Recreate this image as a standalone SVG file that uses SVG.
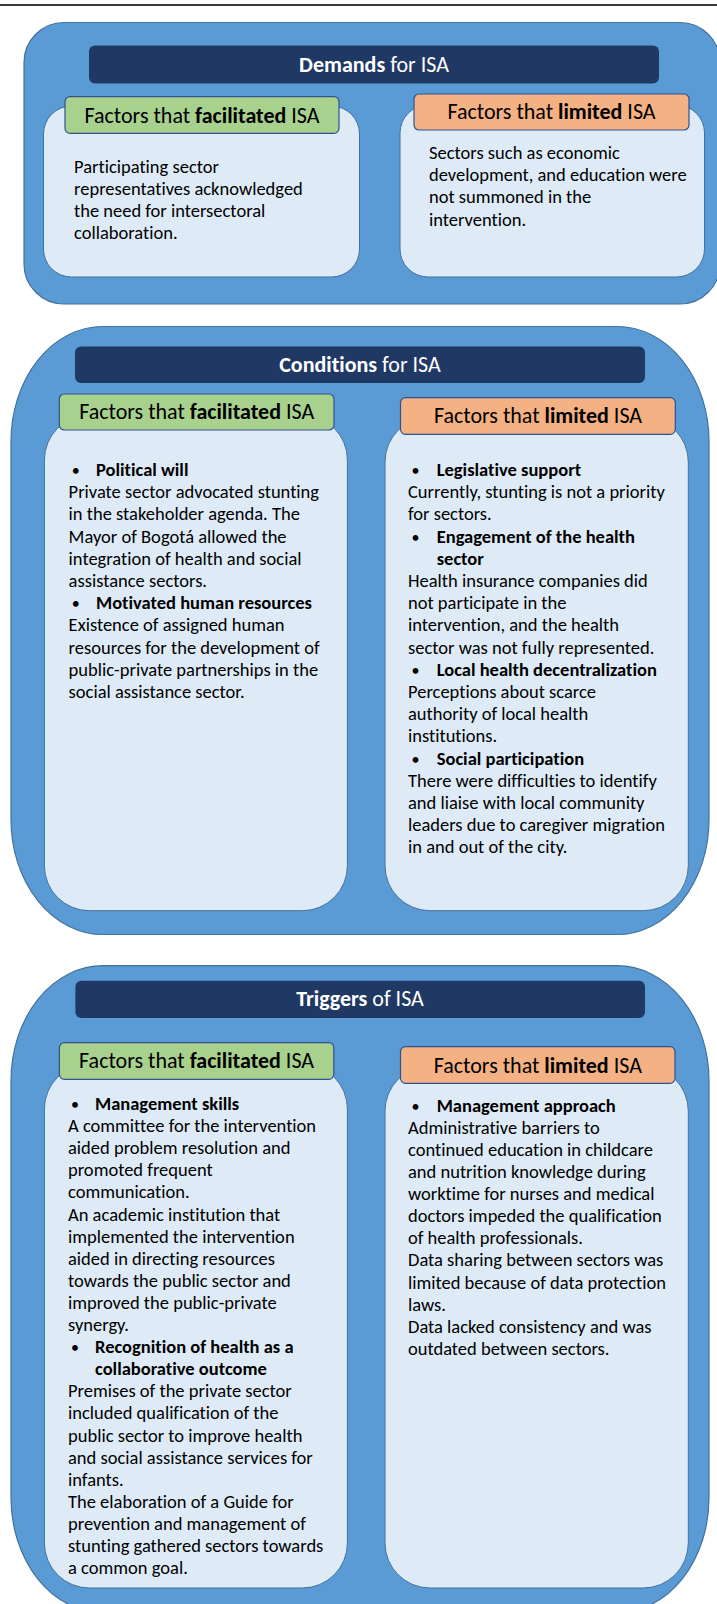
<svg xmlns="http://www.w3.org/2000/svg" width="717" height="1604" viewBox="0 0 717 1604">
  <style>
    .outer { fill: #5B9BD5; stroke: #41719C; stroke-width: 1.2; }
    .bar { fill: #203864; }
    .inner { fill: #DEEBF7; stroke: #41719C; stroke-width: 1; }
    .hdr-g { fill: #A9D18E; stroke: #2F528F; stroke-width: 1.2; }
    .hdr-o { fill: #F4B183; stroke: #2F528F; stroke-width: 1.2; }
    text { font-family: Carlito, Lato, "Liberation Sans", sans-serif; font-variant-ligatures: none; }
    .title { font-size: 22px; fill: #FFFFFF; text-anchor: middle; }
    .hdr { font-size: 22px; fill: #000000; text-anchor: middle; }
    .body { font-size: 18.5px; fill: #000000; }
    .b { font-weight: bold; }
    .dot { font-size: 16px; }
  </style>

  <!-- top rule -->
  <line x1="0" y1="5" x2="717" y2="5" stroke="#3A3A3A" stroke-width="2"/>

  <!-- Demands panel -->
  <g id="demands">
    <rect class="outer" x="24" y="22.5" width="696" height="281.5" rx="40" ry="40"/>
    <rect class="bar" x="89" y="45.5" width="570" height="38" rx="6"/>
    <text class="title" x="374" y="72"><tspan class="b">Demands</tspan> for ISA</text>
  </g>
  <g id="demands-facilitated">
    <rect class="inner" x="43.5" y="106" width="316" height="171" rx="28" ry="28"/>
    <rect class="hdr-g" x="65" y="96.7" width="274" height="36.6" rx="5"/>
    <text class="hdr" x="202" y="122.5">Factors that <tspan class="b">facilitated</tspan> ISA</text>
    <text class="body">
      <tspan x="74" y="172.5">Participating sector</tspan>
      <tspan x="74" y="194.7">representatives acknowledged</tspan>
      <tspan x="74" y="216.9">the need for intersectoral</tspan>
      <tspan x="74" y="239.1">collaboration.</tspan>
    </text>
  </g>
  <g id="demands-limited">
    <rect class="inner" x="400" y="105" width="304.5" height="172" rx="28" ry="28"/>
    <rect class="hdr-o" x="414" y="94" width="275" height="36" rx="5"/>
    <text class="hdr" x="551.5" y="119">Factors that <tspan class="b">limited</tspan> ISA</text>
    <text class="body">
      <tspan x="429" y="159">Sectors such as economic</tspan>
      <tspan x="429" y="181.2">development, and education were</tspan>
      <tspan x="429" y="203.4">not summoned in the</tspan>
      <tspan x="429" y="225.6">intervention.</tspan>
    </text>
  </g>

  <!-- Conditions panel -->
  <g id="conditions">
    <rect class="outer" x="11" y="326.5" width="698" height="608" rx="92" ry="115"/>
    <rect class="bar" x="75" y="346.5" width="570" height="36.5" rx="6"/>
    <text class="title" x="360" y="372"><tspan class="b">Conditions</tspan> for ISA</text>
  </g>
  <g id="conditions-facilitated">
    <rect class="inner" x="44.4" y="415" width="303" height="495.7" rx="45" ry="45"/>
    <rect class="hdr-g" x="59.3" y="394" width="274.7" height="36" rx="5"/>
    <text class="hdr" x="196.7" y="419.3">Factors that <tspan class="b">facilitated</tspan> ISA</text>
    <text class="body">
      <tspan class="dot" x="71.8" y="476">•</tspan><tspan class="b" x="96" y="476">Political will</tspan>
      <tspan x="68.6" y="498.2">Private sector advocated stunting</tspan>
      <tspan x="68.6" y="520.4">in the stakeholder agenda. The</tspan>
      <tspan x="68.6" y="542.6">Mayor of Bogotá allowed the</tspan>
      <tspan x="68.6" y="564.8">integration of health and social</tspan>
      <tspan x="68.6" y="587">assistance sectors.</tspan>
      <tspan class="dot" x="71.8" y="609.2">•</tspan><tspan class="b" x="96" y="609.2">Motivated human resources</tspan>
      <tspan x="68.6" y="631.4">Existence of assigned human</tspan>
      <tspan x="68.6" y="653.6">resources for the development of</tspan>
      <tspan x="68.6" y="675.8">public-private partnerships in the</tspan>
      <tspan x="68.6" y="698">social assistance sector.</tspan>
    </text>
  </g>
  <g id="conditions-limited">
    <rect class="inner" x="385" y="417" width="303.3" height="493.7" rx="45" ry="45"/>
    <rect class="hdr-o" x="400.5" y="397.7" width="274.8" height="36.6" rx="5"/>
    <text class="hdr" x="538" y="423.3">Factors that <tspan class="b">limited</tspan> ISA</text>
    <text class="body">
      <tspan class="dot" x="411.5" y="476">•</tspan><tspan class="b" x="436.7" y="476">Legislative support</tspan>
      <tspan x="408" y="498.2">Currently, stunting is not a priority</tspan>
      <tspan x="408" y="520.4">for sectors.</tspan>
      <tspan class="dot" x="411.5" y="542.6">•</tspan><tspan class="b" x="436.7" y="542.6">Engagement of the health</tspan>
      <tspan class="b" x="436.7" y="564.8">sector</tspan>
      <tspan x="408" y="587">Health insurance companies did</tspan>
      <tspan x="408" y="609.2">not participate in the</tspan>
      <tspan x="408" y="631.4">intervention, and the health</tspan>
      <tspan x="408" y="653.6">sector was not fully represented.</tspan>
      <tspan class="dot" x="411.5" y="675.8">•</tspan><tspan class="b" x="436.7" y="675.8">Local health decentralization</tspan>
      <tspan x="408" y="698">Perceptions about scarce</tspan>
      <tspan x="408" y="720.2">authority of local health</tspan>
      <tspan x="408" y="742.4">institutions.</tspan>
      <tspan class="dot" x="411.5" y="764.6">•</tspan><tspan class="b" x="436.7" y="764.6">Social participation</tspan>
      <tspan x="408" y="786.8">There were difficulties to identify</tspan>
      <tspan x="408" y="809">and liaise with local community</tspan>
      <tspan x="408" y="831.2">leaders due to caregiver migration</tspan>
      <tspan x="408" y="853.4">in and out of the city.</tspan>
    </text>
  </g>

  <!-- Triggers panel -->
  <g id="triggers">
    <rect class="outer" x="11" y="965.7" width="698" height="647" rx="92" ry="115"/>
    <rect class="bar" x="75.4" y="980.7" width="569.6" height="37.3" rx="6"/>
    <text class="title" x="360" y="1006"><tspan class="b">Triggers</tspan> of ISA</text>
  </g>
  <g id="triggers-facilitated">
    <rect class="inner" x="44.4" y="1064" width="303" height="524" rx="45" ry="45"/>
    <rect class="hdr-g" x="59.4" y="1042.7" width="274.4" height="36.6" rx="5"/>
    <text class="hdr" x="196.6" y="1068">Factors that <tspan class="b">facilitated</tspan> ISA</text>
    <text class="body">
      <tspan class="dot" x="71" y="1110">•</tspan><tspan class="b" x="95" y="1110">Management skills</tspan>
      <tspan x="68" y="1132.1">A committee for the intervention</tspan>
      <tspan x="68" y="1154.2">aided problem resolution and</tspan>
      <tspan x="68" y="1176.3">promoted frequent</tspan>
      <tspan x="68" y="1198.4">communication.</tspan>
      <tspan x="68" y="1220.5">An academic institution that</tspan>
      <tspan x="68" y="1242.6">implemented the intervention</tspan>
      <tspan x="68" y="1264.7">aided in directing resources</tspan>
      <tspan x="68" y="1286.8">towards the public sector and</tspan>
      <tspan x="68" y="1308.9">improved the public-private</tspan>
      <tspan x="68" y="1331">synergy.</tspan>
      <tspan class="dot" x="71" y="1353.1">•</tspan><tspan class="b" x="95" y="1353.1">Recognition of health as a</tspan>
      <tspan class="b" x="95" y="1375.2">collaborative outcome</tspan>
      <tspan x="68" y="1397.3">Premises of the private sector</tspan>
      <tspan x="68" y="1419.4">included qualification of the</tspan>
      <tspan x="68" y="1441.5">public sector to improve health</tspan>
      <tspan x="68" y="1463.6">and social assistance services for</tspan>
      <tspan x="68" y="1485.7">infants.</tspan>
      <tspan x="68" y="1507.8">The elaboration of a Guide for</tspan>
      <tspan x="68" y="1529.9">prevention and management of</tspan>
      <tspan x="68" y="1552">stunting gathered sectors towards</tspan>
      <tspan x="68" y="1574.1">a common goal.</tspan>
    </text>
  </g>
  <g id="triggers-limited">
    <rect class="inner" x="385" y="1066" width="303.3" height="522" rx="45" ry="45"/>
    <rect class="hdr-o" x="400.5" y="1046.7" width="274.5" height="36.6" rx="5"/>
    <text class="hdr" x="537.8" y="1072.5">Factors that <tspan class="b">limited</tspan> ISA</text>
    <text class="body">
      <tspan class="dot" x="411.5" y="1111.7">•</tspan><tspan class="b" x="436.7" y="1111.7">Management approach</tspan>
      <tspan x="408" y="1133.8">Administrative barriers to</tspan>
      <tspan x="408" y="1155.9">continued education in childcare</tspan>
      <tspan x="408" y="1178">and nutrition knowledge during</tspan>
      <tspan x="408" y="1200.1">worktime for nurses and medical</tspan>
      <tspan x="408" y="1222.2">doctors impeded the qualification</tspan>
      <tspan x="408" y="1244.3">of health professionals.</tspan>
      <tspan x="408" y="1266.4">Data sharing between sectors was</tspan>
      <tspan x="408" y="1288.5">limited because of data protection</tspan>
      <tspan x="408" y="1310.6">laws.</tspan>
      <tspan x="408" y="1332.7">Data lacked consistency and was</tspan>
      <tspan x="408" y="1354.8">outdated between sectors.</tspan>
    </text>
  </g>
</svg>
